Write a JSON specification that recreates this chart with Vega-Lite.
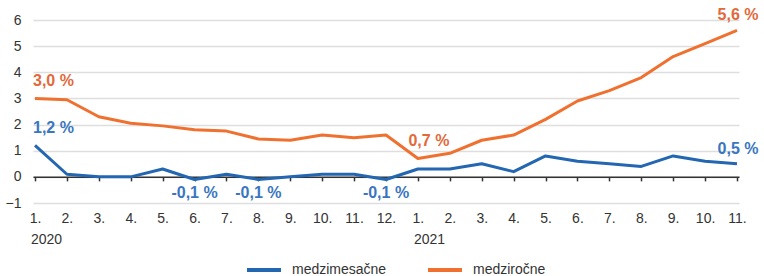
{
  "$schema": "https://vega.github.io/schema/vega-lite/v6.json",
  "autosize": "none",
  "width": 706,
  "height": 183,
  "padding": {"left": 33, "top": 20, "right": 25, "bottom": 73},
  "background": "white",
  "config": {"font": "Liberation Sans", "view": {"stroke": null}},
  "datasets": {
    "main": [
      {"t": "2020-01", "medzimesačne": 1.2, "medziročne": 3.0},
      {"t": "2020-02", "medzimesačne": 0.1, "medziročne": 2.95},
      {"t": "2020-03", "medzimesačne": 0.0, "medziročne": 2.3},
      {"t": "2020-04", "medzimesačne": 0.0, "medziročne": 2.05},
      {"t": "2020-05", "medzimesačne": 0.3, "medziročne": 1.95},
      {"t": "2020-06", "medzimesačne": -0.1, "medziročne": 1.8},
      {"t": "2020-07", "medzimesačne": 0.1, "medziročne": 1.75},
      {"t": "2020-08", "medzimesačne": -0.1, "medziročne": 1.45},
      {"t": "2020-09", "medzimesačne": 0.0, "medziročne": 1.4},
      {"t": "2020-10", "medzimesačne": 0.1, "medziročne": 1.6},
      {"t": "2020-11", "medzimesačne": 0.1, "medziročne": 1.5},
      {"t": "2020-12", "medzimesačne": -0.1, "medziročne": 1.6},
      {"t": "2021-01", "medzimesačne": 0.3, "medziročne": 0.7},
      {"t": "2021-02", "medzimesačne": 0.3, "medziročne": 0.9},
      {"t": "2021-03", "medzimesačne": 0.5, "medziročne": 1.4},
      {"t": "2021-04", "medzimesačne": 0.2, "medziročne": 1.6},
      {"t": "2021-05", "medzimesačne": 0.8, "medziročne": 2.2},
      {"t": "2021-06", "medzimesačne": 0.6, "medziročne": 2.9},
      {"t": "2021-07", "medzimesačne": 0.5, "medziročne": 3.3},
      {"t": "2021-08", "medzimesačne": 0.4, "medziročne": 3.8},
      {"t": "2021-09", "medzimesačne": 0.8, "medziročne": 4.6},
      {"t": "2021-10", "medzimesačne": 0.6, "medziročne": 5.1},
      {"t": "2021-11", "medzimesačne": 0.5, "medziročne": 5.6}
    ],
    "ann": [
      {"t": "2020-01", "s": "medziročne", "v": 3.0, "label": "3,0 %"},
      {"t": "2020-01", "s": "medzimesačne", "v": 1.2, "label": "1,2 %"},
      {"t": "2020-06", "s": "medzimesačne", "v": -0.1, "label": "-0,1 %"},
      {"t": "2020-08", "s": "medzimesačne", "v": -0.1, "label": "-0,1 %"},
      {"t": "2020-12", "s": "medzimesačne", "v": -0.1, "label": "-0,1 %"},
      {"t": "2021-01", "s": "medziročne", "v": 0.7, "label": "0,7 %"},
      {"t": "2021-11", "s": "medziročne", "v": 5.6, "label": "5,6 %"},
      {"t": "2021-11", "s": "medzimesačne", "v": 0.5, "label": "0,5 %"}
    ],
    "years": [
      {"t": "2020-01", "label": "2020"},
      {"t": "2021-01", "label": "2021"}
    ]
  },
  "encoding": {
    "x": {
      "field": "t", "type": "ordinal",
      "scale": {"type": "point", "padding": 0.063},
      "axis": {
        "orient": "bottom", "offset": -26.14, "title": null,
        "labelExpr": "toNumber(slice(datum.value, 5)) + '.'",
        "labelAngle": 0, "labelFontSize": 14, "labelColor": "#333333",
        "labelPadding": 31, "labelBaseline": "top", "labelOverlap": false,
        "domainColor": "#333333", "domainWidth": 1.5,
        "tickColor": "#333333", "tickSize": 4, "tickWidth": 1.5,
        "grid": false
      }
    }
  },
  "layer": [
    {
      "data": {"name": "main"},
      "transform": [{"fold": ["medzimesačne", "medziročne"], "as": ["s", "v"]}],
      "mark": {"type": "line", "strokeWidth": 3, "strokeJoin": "round"},
      "encoding": {
        "y": {
          "field": "v", "type": "quantitative",
          "scale": {"domain": [-1, 6], "nice": false, "zero": false},
          "axis": {
            "title": null, "values": [-1, 0, 1, 2, 3, 4, 5, 6], "tickCount": 10, "format": "d",
            "domain": false, "ticks": false, "labelPadding": 12,
            "labelOverlap": false, "labelFlush": false,
            "labelFontSize": 14, "labelColor": "#333333",
            "grid": true, "gridColor": "#dedede", "gridWidth": 1.5
          }
        },
        "color": {
          "field": "s", "type": "nominal",
          "scale": {"domain": ["medzimesačne", "medziročne"], "range": ["#2366b1", "#f0712f"]},
          "legend": {
            "title": null, "orient": "none", "direction": "horizontal",
            "legendX": 212, "legendY": 231,
            "symbolType": "stroke", "symbolSize": 1156, "symbolStrokeWidth": 4,
            "labelFontSize": 14, "labelColor": "#333333", "labelOffset": 9,
            "columnPadding": 33
          }
        }
      }
    },
    {
      "data": {"name": "ann"},
      "transform": [{"filter": "datum.t == '2020-01'"}],
      "mark": {"type": "text", "align": "left", "baseline": "middle", "dx": -2, "dy": -17, "fontSize": 16, "fontWeight": "bold"},
      "encoding": {
        "y": {"field": "v", "type": "quantitative"},
        "text": {"field": "label"},
        "color": {"condition": {"test": "datum.s == 'medziročne'", "value": "#e2693b"}, "value": "#3a76bf"}
      }
    },
    {
      "data": {"name": "ann"},
      "transform": [{"filter": "datum.t == '2021-01'"}],
      "mark": {"type": "text", "align": "center", "baseline": "middle", "dx": 11, "dy": -18, "fontSize": 16, "fontWeight": "bold"},
      "encoding": {
        "y": {"field": "v", "type": "quantitative"},
        "text": {"field": "label"},
        "color": {"condition": {"test": "datum.s == 'medziročne'", "value": "#e2693b"}, "value": "#3a76bf"}
      }
    },
    {
      "data": {"name": "ann"},
      "transform": [{"filter": "datum.t == '2021-11'"}],
      "mark": {"type": "text", "align": "center", "baseline": "middle", "dx": 1, "dy": -15, "fontSize": 16, "fontWeight": "bold"},
      "encoding": {
        "y": {"field": "v", "type": "quantitative"},
        "text": {"field": "label"},
        "color": {"condition": {"test": "datum.s == 'medziročne'", "value": "#e2693b"}, "value": "#3a76bf"}
      }
    },
    {
      "data": {"name": "ann"},
      "transform": [{"filter": "datum.v < 0"}],
      "mark": {"type": "text", "align": "center", "baseline": "middle", "dy": 14, "fontSize": 16, "fontWeight": "bold"},
      "encoding": {
        "y": {"field": "v", "type": "quantitative"},
        "text": {"field": "label"},
        "color": {"condition": {"test": "datum.s == 'medziročne'", "value": "#e2693b"}, "value": "#3a76bf"}
      }
    },
    {
      "data": {"name": "years"},
      "mark": {"type": "text", "align": "left", "baseline": "middle", "dx": -4, "fontSize": 14, "color": "#333333"},
      "encoding": {
        "y": {"datum": -2.41},
        "text": {"field": "label"}
      }
    }
  ]
}
